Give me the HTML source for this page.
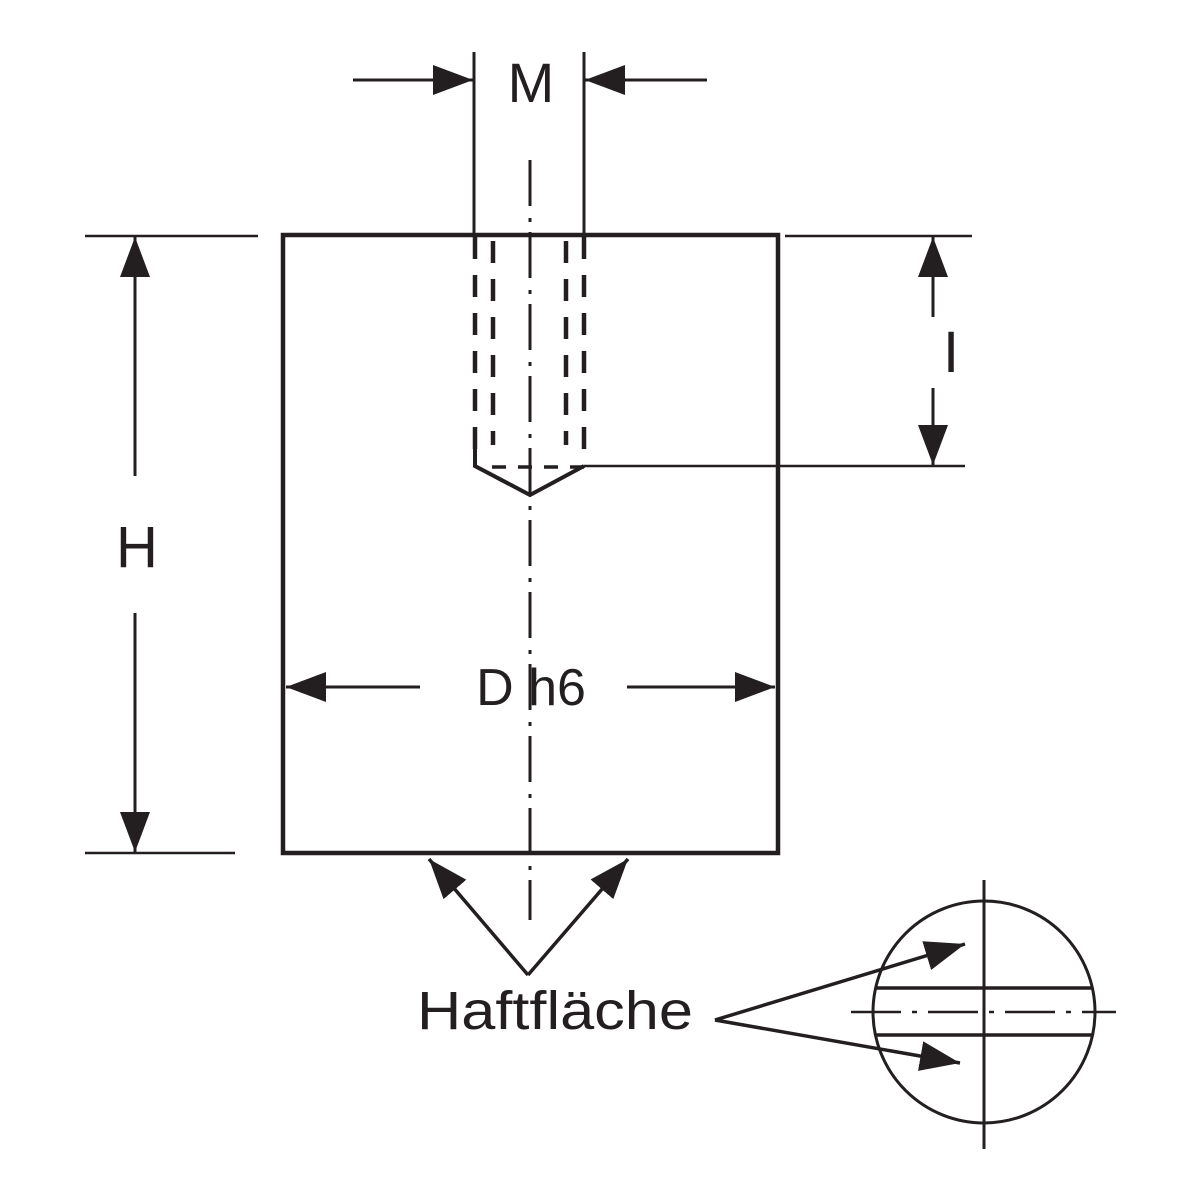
<!DOCTYPE html>
<html><head><meta charset="utf-8"><style>html,body{margin:0;padding:0;background:#fff}svg{display:block}</style></head>
<body>
<svg width="1200" height="1200" viewBox="0 0 1200 1200" xmlns="http://www.w3.org/2000/svg">
<defs>
<marker id="a" viewBox="0 0 40 30" refX="40" refY="15" markerWidth="40" markerHeight="30" markerUnits="userSpaceOnUse" orient="auto"><path d="M0,0 L40,15 L0,30 Z" fill="#231f20"/></marker>
</defs>
<g stroke="#231f20" fill="none">
<rect x="283" y="235" width="495" height="618" stroke-width="4.5"/>
<line x1="85" y1="236" x2="258" y2="236" stroke-width="2.5"/>
<line x1="85" y1="853" x2="235" y2="853" stroke-width="2.5"/>
<line x1="785" y1="236" x2="972" y2="236" stroke-width="2.5"/>
<line x1="584" y1="466" x2="965" y2="466" stroke-width="2.5"/>
<line x1="474" y1="52" x2="474" y2="235" stroke-width="3"/>
<line x1="584" y1="52" x2="584" y2="235" stroke-width="3"/>
<line x1="353" y1="80" x2="473" y2="80" stroke-width="3" marker-end="url(#a)"/>
<line x1="707" y1="80" x2="585" y2="80" stroke-width="3" marker-end="url(#a)"/>
<line x1="135" y1="476" x2="135" y2="237" stroke-width="3" marker-end="url(#a)"/>
<line x1="135" y1="613" x2="135" y2="852" stroke-width="3" marker-end="url(#a)"/>
<line x1="933" y1="317" x2="933" y2="237" stroke-width="3" marker-end="url(#a)"/>
<line x1="933" y1="388" x2="933" y2="465" stroke-width="3" marker-end="url(#a)"/>
<line x1="420" y1="687" x2="286" y2="687" stroke-width="3" marker-end="url(#a)"/>
<line x1="627" y1="687" x2="775" y2="687" stroke-width="3" marker-end="url(#a)"/>
<g stroke-width="4.5" stroke-dasharray="22,16">
<line x1="475" y1="237" x2="475" y2="465"/>
<line x1="584" y1="237" x2="584" y2="465"/>
</g>
<g stroke-width="4.5" stroke-dasharray="22,16" stroke-dashoffset="-4">
<line x1="493" y1="237" x2="493" y2="445"/>
<line x1="566" y1="237" x2="566" y2="445"/>
</g>
<line x1="492" y1="467" x2="584" y2="467" stroke-width="3.5" stroke-dasharray="14,12"/>
<polyline points="475,445 475,466 530,495 584,466" stroke-width="4"/>
<line x1="530" y1="160" x2="530" y2="920" stroke-width="3" stroke-dasharray="46,12,4,10"/>
<line x1="528" y1="975" x2="429" y2="859" stroke-width="3.5" marker-end="url(#a)"/>
<line x1="528" y1="975" x2="628" y2="859" stroke-width="3.5" marker-end="url(#a)"/>
<line x1="715" y1="1020" x2="965" y2="944" stroke-width="3.5" marker-end="url(#a)"/>
<line x1="715" y1="1020" x2="960" y2="1063" stroke-width="3.5" marker-end="url(#a)"/>
<circle cx="984" cy="1012" r="111" stroke-width="3"/>
<line x1="984" y1="880" x2="984" y2="1149" stroke-width="3"/>
<line x1="876" y1="988" x2="1093" y2="988" stroke-width="3.5"/>
<line x1="876" y1="1035" x2="1093" y2="1035" stroke-width="3.5"/>
<line x1="851" y1="1012" x2="1116" y2="1012" stroke-width="2.5" stroke-dasharray="50,11,5,11"/>
</g>
<g fill="#231f20" font-family="Liberation Sans, sans-serif">
<text x="531" y="102" font-size="56" text-anchor="middle">M</text>
<text x="137" y="567" font-size="58" text-anchor="middle">H</text>
<text x="951" y="372" font-size="58" text-anchor="middle">I</text>
<text x="531" y="705" font-size="52" text-anchor="middle">D h6</text>
<text x="417" y="1029" font-size="54" textLength="276" lengthAdjust="spacingAndGlyphs">Haftfläche</text>
</g>
</svg>
</body></html>
